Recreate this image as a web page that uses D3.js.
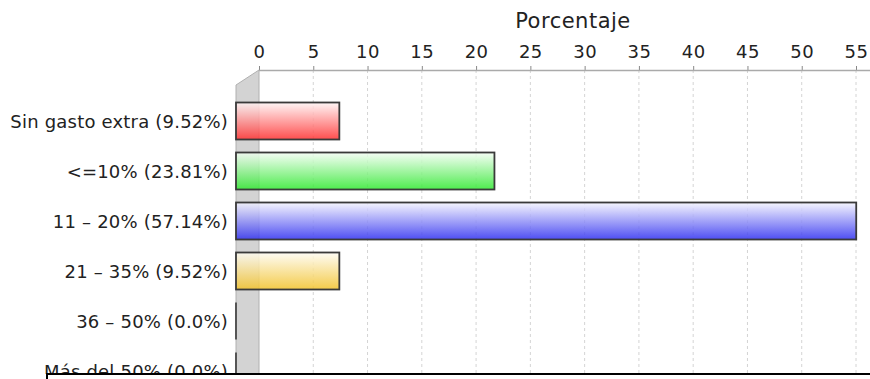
<!DOCTYPE html>
<html>
<head>
<meta charset="utf-8">
<script src="https://cdn.jsdelivr.net/npm/d3@7"></script>
<style>
  body { margin: 0; background: #fff; }
  svg { display: block; font-family: "DejaVu Sans", sans-serif; }
</style>
</head>
<body>
<div id="chart"></div>
<script>
// data
const categories = ['Sin gasto extra (9.52%)', '<=10% (23.81%)', '11 - 20% (57.14%)',
                    '21 - 35% (9.52%)', '36 - 50% (0.0%)', 'Más del 50% (0.0%)'];
const values = [9.52, 23.81, 57.14, 9.52, 0, 0];
const barColors = ['#ff2f2f', '#2fe82f', '#2f2ff0', '#f2c22a'];
const tickValues = [0, 5, 10, 15, 20, 25, 30, 35, 40, 45, 50, 55];
const axisTitle = 'Porcentaje';

const width = 870, height = 379;
const depth = 23, rise = 15;

const svg = d3.select('#chart').append('svg')
  .attr('width', width).attr('height', height);

const x = d3.scaleLinear().domain([0, 55]).range([259, 856]);
const y = d3.scaleBand().domain(categories).range([96, 396])
  .paddingInner(0.26).paddingOuter(0.13);

const defs = svg.append('defs');
barColors.forEach((c, i) => {
  const g = defs.append('linearGradient').attr('id', 'grad' + i)
    .attr('x1', 0).attr('y1', 0).attr('x2', 0).attr('y2', 1);
  g.append('stop').attr('offset', '0%').attr('stop-color', d3.interpolateRgb('#fff', c)(0.05));
  g.append('stop').attr('offset', '100%').attr('stop-color', c);
});

// grid lines
svg.append('g')
  .selectAll('line')
  .data(tickValues.filter(d => d > 0))
  .enter().append('line')
    .attr('x1', d => x(d)).attr('x2', d => x(d))
    .attr('y1', 70).attr('y2', 374)
    .attr('stroke', '#d4d4d4')
    .attr('stroke-width', 1)
    .attr('stroke-dasharray', '3,3');

// wall behind the bars
svg.append('path')
  .attr('d', `M${x(0) - depth},${70 + rise} L${x(0)},70 L${x(0)},${height} L${x(0) - depth},${height} Z`)
  .attr('fill', '#d3d3d3')
  .attr('stroke', '#b0b0b0')
  .attr('stroke-width', 1);

// axis on top
const axis = svg.append('g')
  .attr('transform', 'translate(0,70)')
  .call(d3.axisTop(x).tickValues(tickValues).tickSize(4).tickPadding(8));
axis.select('.domain').remove();
axis.selectAll('.tick line').attr('stroke', '#888');
axis.selectAll('.tick text')
  .attr('font-size', 18).attr('font-family', '"DejaVu Sans", sans-serif')
  .attr('letter-spacing', 0.5)
  .attr('fill', '#222');

svg.append('line')
  .attr('x1', x(0)).attr('x2', width)
  .attr('y1', 70.5).attr('y2', 70.5)
  .attr('stroke', '#aaa').attr('stroke-width', 1.5);

svg.append('text')
  .attr('x', 573).attr('y', 28)
  .attr('text-anchor', 'middle')
  .attr('font-size', 21)
  .attr('letter-spacing', 0.5)
  .attr('fill', '#222')
  .text(axisTitle);

// bars (front face, shifted left by the 3d depth)
const bars = svg.append('g');
categories.forEach((c, i) => {
  const v = values[i];
  if (v > 0) {
    bars.append('rect')
      .attr('x', x(0) - depth)
      .attr('y', y(c))
      .attr('width', x(v) - x(0))
      .attr('height', y.bandwidth())
      .attr('fill', `url(#grad${i % barColors.length})`)
      .attr('fill-opacity', 0.85)
      .attr('stroke', '#3a3a3a')
      .attr('stroke-width', 1.8);
  } else {
    bars.append('line')
      .attr('x1', x(0) - depth).attr('x2', x(0) - depth)
      .attr('y1', y(c)).attr('y2', y(c) + y.bandwidth())
      .attr('stroke', '#555')
      .attr('stroke-width', 2);
  }
});

// category labels
svg.append('g')
  .selectAll('text')
  .data(categories)
  .enter().append('text')
    .attr('x', 228)
    .attr('y', d => y(d) + y.bandwidth() / 2 + 7)
    .attr('text-anchor', 'end')
    .attr('font-size', 18)
    .attr('letter-spacing', 0.2)
    .attr('fill', '#222')
    .text(d => d.replace(' - ', ' – '));

// bottom edge
svg.append('rect')
  .attr('x', 0).attr('y', 374).attr('width', width).attr('height', 5)
  .attr('fill', '#fff');
svg.append('path')
  .attr('d', `M47,${height} V374 H${width}`)
  .attr('fill', 'none')
  .attr('stroke', '#000')
  .attr('stroke-width', 2);
</script>
</body>
</html>
